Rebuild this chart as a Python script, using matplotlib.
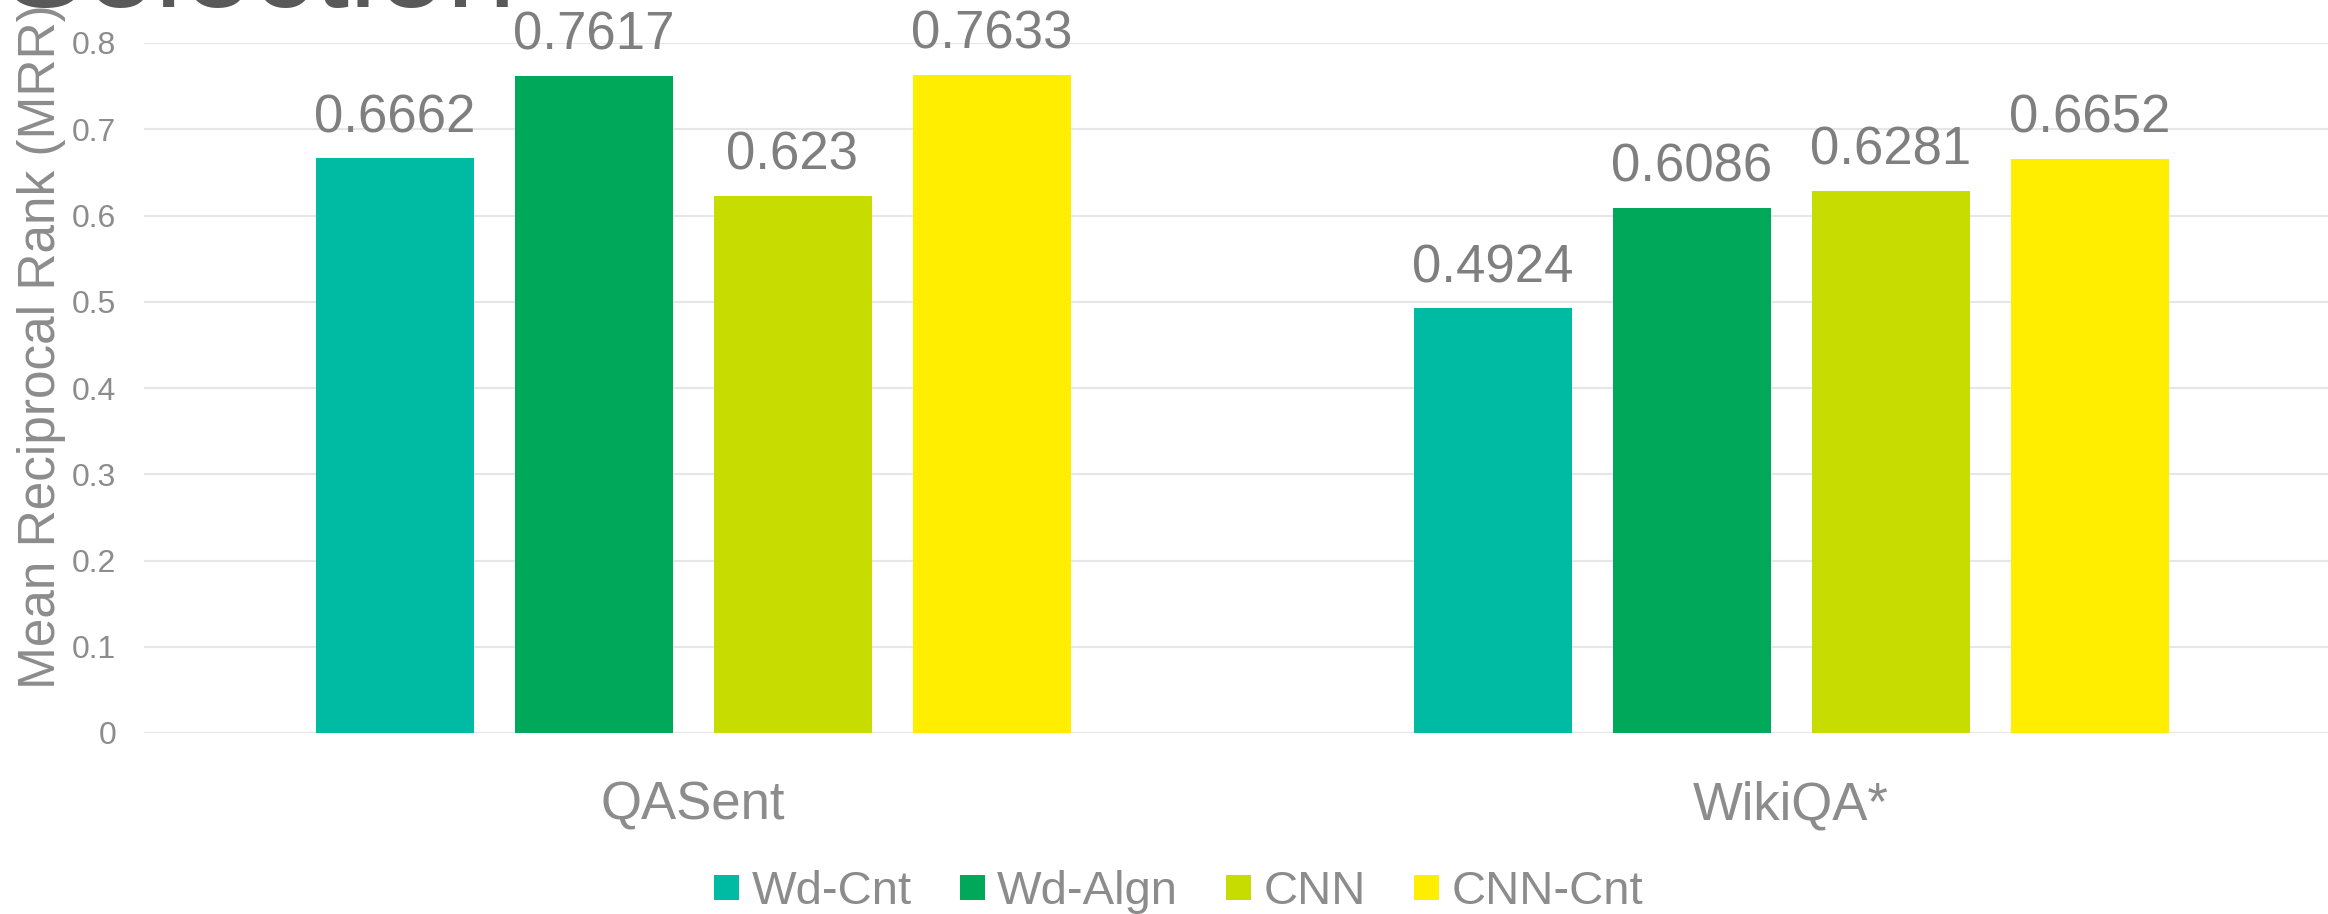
import matplotlib
matplotlib.use("Agg")
import matplotlib.pyplot as plt
from matplotlib.lines import Line2D
import numpy as np

plt.rcParams['font.family'] = ['Liberation Sans', 'DejaVu Sans']

categories = ["QASent", "WikiQA*"]
series_names = ["Wd-Cnt", "Wd-Algn", "CNN", "CNN-Cnt"]
wd_cnt = [0.6662, 0.4924]
wd_algn = [0.7617, 0.6086]
cnn = [0.623, 0.6281]
cnn_cnt = [0.7633, 0.6652]
value_labels = [["0.6662", "0.4924"], ["0.7617", "0.6086"], ["0.623", "0.6281"], ["0.7633", "0.6652"]]
yticks = [0, 0.1, 0.2, 0.3, 0.4, 0.5, 0.6, 0.7, 0.8]
ytick_labels = ["0", "0.1", "0.2", "0.3", "0.4", "0.5", "0.6", "0.7", "0.8"]
colors = ["#00BBA4", "#00A85A", "#C7DC00", "#FFEE00"]

W, H = 2328, 914
fig = plt.figure(figsize=(W / 100, H / 100), dpi=100)
ax_left, ax_right = 144, 2328
ax_y0, ax_y8 = 733, 43
ax = fig.add_axes([ax_left / W, 1 - ax_y0 / H, (ax_right - ax_left) / W, (ax_y0 - ax_y8) / H])

series = [wd_cnt, wd_algn, cnn, cnn_cnt]
x = np.arange(len(categories))
bw = 158 / 1098
step = 199 / 1098
for i, (vals, col) in enumerate(zip(series, colors)):
    bars = ax.bar(x + (i - 1.5) * step, vals, width=bw, color=col, zorder=3, label=series_names[i])
    ax.bar_label(bars, labels=value_labels[i], padding=11, fontsize=38, color="#7F7F7F", clip_on=False)

ax.set_xlim(-0.5, 1 + (2328 - 1791) / 1098)
ax.set_ylim(0, 0.8)
ax.set_yticks(yticks)
ax.set_yticklabels(ytick_labels)
ax.set_xticks(x)
ax.set_xticklabels(categories)
ax.tick_params(axis='x', length=0, pad=34, labelsize=38, labelcolor="#8C8C8C")
ax.tick_params(axis='y', length=0, pad=20, labelsize=23, labelcolor="#8C8C8C")
ax.grid(axis='y', color="#E6E6E6", linewidth=1.5, zorder=0)
ax.set_axisbelow(True)
for s in ax.spines.values():
    s.set_visible(False)

ax.set_ylabel("Mean Reciprocal Rank (MRR)", fontsize=37, color="#8C8C8C")
ax.yaxis.set_label_coords((66 - ax_left) / (ax_right - ax_left), (ax_y0 - 347) / (ax_y0 - ax_y8))

fig.text(2 / W, 1 - 7 / H, "Selection", fontsize=90, color="#595959", ha='left', va='baseline')

handles = [Line2D([], [], linestyle='none', marker='s', markersize=18, markerfacecolor=c,
                  markeredgewidth=0) for c in colors]
leg = fig.legend(handles, series_names, loc='center', bbox_to_anchor=(1178 / W, 1 - 892 / H),
                 ncol=4, frameon=False, fontsize=34, handlelength=0.55, handletextpad=0.26,
                 columnspacing=1.0, borderpad=0, borderaxespad=0)
for t in leg.get_texts():
    t.set_color("#8C8C8C")

fig.savefig("out.png", dpi=100)
